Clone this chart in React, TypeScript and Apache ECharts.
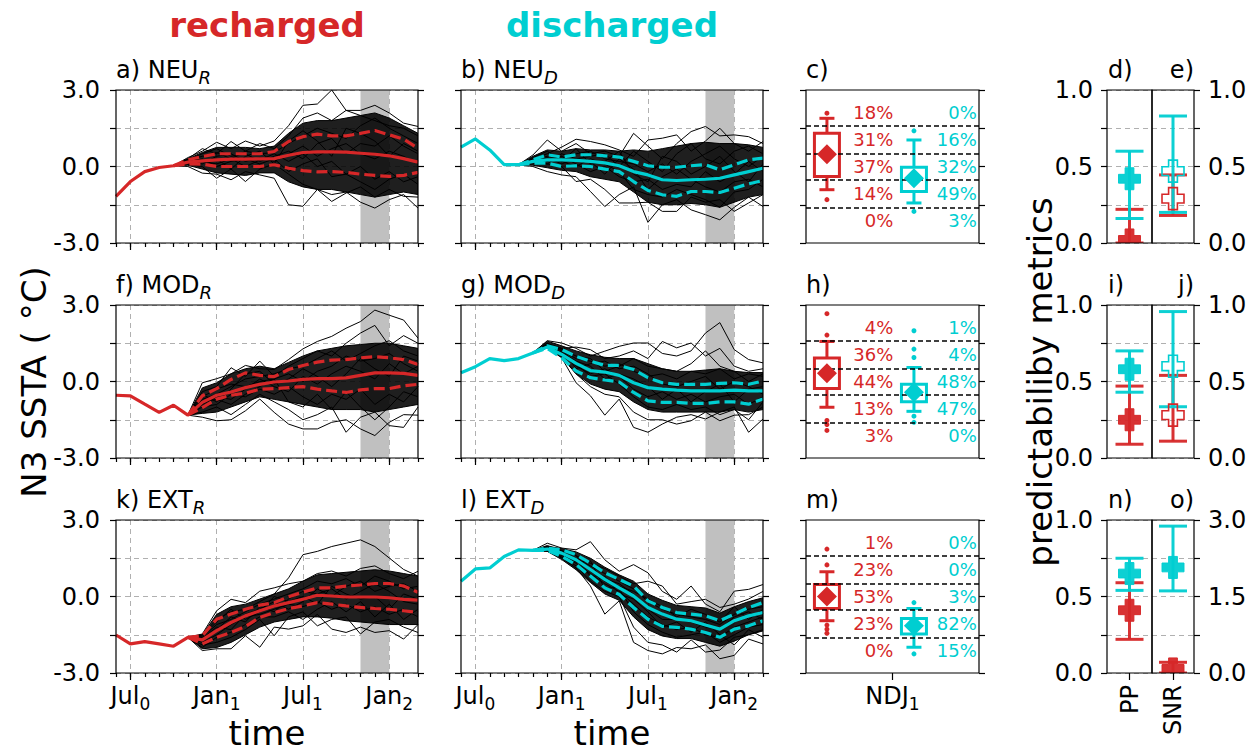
import React, { useEffect, useRef } from 'react';
import * as echarts from 'echarts';

const RED = '#d62728';
const CYAN = '#00ced1';
const FONT = 'DejaVu Sans';
const GRID_GRAY = '#b0b0b0';
const SHADE_GRAY = '#c0c0c0';

// ---------- time axis ----------
const MONTHS = ['Jun0', 'Jul0', 'Aug0', 'Sep0', 'Oct0', 'Nov0', 'Dec0', 'Jan1', 'Feb1', 'Mar1', 'Apr1', 'May1',
  'Jun1', 'Jul1', 'Aug1', 'Sep1', 'Oct1', 'Nov1', 'Dec1', 'Jan2', 'Feb2', 'Mar2'];
const MAJOR_LABELS: Record<string, string[]> = { Jul0: ['Jul', '0'], Jan1: ['Jan', '1'], Jul1: ['Jul', '1'], Jan2: ['Jan', '2'] };
const SHADE_FROM = 'Nov1';
const SHADE_TO = 'Jan2';

// ---------- panel a) NEU_R ----------
const A_START = 4;
const A_MEAN = [-1.17, -0.59, -0.2, -0.04, 0.03, 0.17, 0.22, 0.26, 0.29, 0.29, 0.3, 0.31, 0.44, 0.55, 0.57, 0.57, 0.56, 0.52, 0.48, 0.42, 0.31, 0.17];
const A_UP = [0.03, 0.26, 0.39, 0.5, 0.5, 0.5, 0.5, 0.59, 0.98, 1.17, 1.27, 1.2, 1.2, 1.3, 1.41, 1.24, 1.07, 0.72];
const A_LO = [0.03, 0.1, 0.09, 0.0, 0.0, 0.0, 0.0, 0.07, -0.07, -0.16, -0.21, -0.2, -0.23, -0.3, -0.35, -0.39, -0.35, -0.23];
const A_BAND_HI = [0.03, 0.3, 0.55, 0.75, 0.75, 0.75, 0.7, 0.8, 1.3, 1.7, 1.8, 1.8, 1.9, 2.0, 2.1, 1.9, 1.6, 1.3];
const A_BAND_LO = [0.03, 0.05, -0.1, -0.25, -0.3, -0.35, -0.25, -0.25, -0.6, -0.8, -0.9, -0.9, -1.0, -1.1, -1.2, -1.1, -1.0, -1.1];
const A_MEMBERS = [
  [0.03, 0.35, 0.6, 0.95, 0.7, 1.0, 0.8, 1.0, 1.6, 2.4, 2.45, 3.0, 2.2, 2.0, 1.8, 1.6, 1.5, 1.2],
  [0.03, 0.3, 0.7, 0.5, 0.98, 0.6, 0.9, 0.7, 1.2, 1.9, 2.1, 1.8, 2.2, 2.2, 2.4, 2.1, 1.7, 1.57],
  [0.03, 0.0, -0.26, -0.3, -0.52, -0.2, -0.33, -0.46, -1.5, -1.56, -0.9, -1.1, -1.0, -1.4, -1.63, -1.3, -1.1, -1.63],
  [0.03, 0.1, 0.0, -0.46, -0.1, -0.59, -0.1, 0.1, -0.3, -0.7, -0.9, -1.37, -1.04, -0.8, -1.2, -0.9, -1.17, -1.2],
  [0.03, 0.25, 0.4, 0.55, 0.3, 0.6, 0.5, 0.55, 0.9, 1.2, 1.5, 1.3, 1.1, 1.6, 1.9, 1.5, 1.2, 0.9],
  [0.03, 0.2, 0.1, 0.4, 0.5, 0.2, 0.35, 0.2, 0.5, 0.8, 0.4, 0.7, 0.9, 0.5, 0.3, 0.6, 0.4, 0.1],
  [0.03, 0.15, 0.3, 0.0, 0.2, 0.3, 0.1, 0.3, -0.2, 0.1, 0.3, -0.4, -0.3, -0.6, -0.9, -0.5, -0.3, -0.7],
  [0.03, 0.25, 0.5, 0.7, 0.4, 0.5, 0.2, 0.4, 0.6, 0.3, 0.9, 1.1, 0.5, 0.9, 0.8, 1.2, 0.8, 0.5],
  [0.03, 0.1, 0.2, 0.1, 0.3, 0.0, 0.25, 0.5, 0.2, 0.5, 0.0, 0.2, -0.3, 0.0, -0.5, -0.2, -0.6, -0.4],
  [0.03, 0.3, 0.25, 0.3, -0.1, 0.4, 0.6, 0.1, 1.0, 1.4, 1.0, 0.4, 1.5, 1.3, 1.0, 0.4, 0.9, 0.6],
];

// ---------- panel b) NEU_D ----------
const B_START = 4;
const B_MEAN = [0.76, 1.08, 0.65, 0.07, 0.07, 0.2, 0.26, 0.26, 0.24, 0.2, 0.14, 0.03, -0.2, -0.33, -0.52, -0.55, -0.52, -0.5, -0.46, -0.33, -0.2, -0.07];
const B_UP = [0.07, 0.26, 0.46, 0.37, 0.46, 0.46, 0.42, 0.37, 0.2, 0.03, -0.03, -0.03, 0.03, 0.07, -0.13, 0.07, 0.26, 0.33];
const B_LO = [0.07, 0.13, 0.13, 0.0, 0.03, 0.0, -0.1, -0.2, -0.59, -0.94, -1.11, -1.17, -0.98, -0.98, -1.02, -0.85, -0.68, -0.55];
const B_BAND_HI = [0.07, 0.4, 0.65, 0.6, 0.7, 0.65, 0.65, 0.6, 0.65, 0.6, 0.7, 0.8, 0.9, 0.95, 0.9, 0.9, 0.85, 0.75];
const B_BAND_LO = [0.07, 0.05, -0.05, -0.15, -0.2, -0.4, -0.5, -0.6, -1.0, -1.4, -1.5, -1.5, -1.45, -1.5, -1.6, -1.4, -1.2, -1.1];
const B_MEMBERS = [
  [0.07, 0.45, 1.04, 0.6, 0.9, 0.5, 0.6, 0.4, 1.3, 0.8, 0.3, 0.9, 1.37, 1.57, 1.2, 1.24, 1.17, 0.9],
  [0.07, 0.3, 0.5, 0.76, 1.07, 0.98, 0.85, 0.65, 0.4, 1.04, 1.11, 1.24, 0.6, 1.0, 1.5, 0.9, 0.6, 0.98],
  [0.07, 0.0, -0.2, -0.33, -0.4, -0.98, -1.57, -1.1, -0.8, -2.19, -1.5, -1.3, -1.7, -1.89, -2.09, -1.6, -1.2, -1.57],
  [0.07, 0.1, 0.1, 0.0, -0.59, -0.5, -0.9, -1.43, -1.43, -1.4, -1.76, -1.76, -1.2, -1.4, -1.3, -1.76, -1.43, -1.1],
  [0.07, 0.25, 0.4, 0.3, 0.5, 0.6, 0.3, 0.2, 0.1, -0.2, 0.1, -0.3, 0.2, 0.5, 0.8, 0.3, 0.0, 0.4],
  [0.07, 0.2, 0.2, 0.4, 0.1, -0.2, 0.0, -0.4, -0.6, -0.5, -0.9, -0.7, -0.8, -0.2, -0.6, -0.3, 0.2, -0.2],
  [0.07, 0.15, 0.35, 0.1, 0.3, 0.2, -0.3, 0.3, -0.1, -0.9, -0.4, -0.1, -0.5, -0.8, -1.0, -0.6, -0.5, -0.8],
  [0.07, 0.3, 0.1, 0.5, 0.3, 0.4, 0.5, 0.0, 0.6, 0.2, -0.2, 0.5, 0.9, 0.3, 0.1, 0.6, 0.8, 0.5],
  [0.07, 0.2, 0.3, 0.2, 0.0, 0.3, 0.1, -0.2, -0.9, -1.1, -1.2, -0.9, -1.1, -1.3, -1.6, -1.0, -0.9, -0.5],
  [0.07, 0.35, 0.6, 0.2, 0.7, 0.1, 0.2, 0.6, -0.3, -0.6, 0.4, 0.2, -0.3, 0.0, 0.4, -0.2, -0.6, 0.1],
];

// ---------- panel f) MOD_R ----------
const F_START = 5;
const F_MEAN = [-0.54, -0.56, -0.89, -1.21, -0.93, -1.32, -0.82, -0.54, -0.41, -0.24, -0.11, -0.02, 0.02, 0.08, 0.11, 0.11, 0.14, 0.24, 0.34, 0.34, 0.32, 0.24];
const F_UP = [-1.32, -0.56, -0.28, 0.08, 0.34, 0.24, 0.19, 0.47, 0.63, 0.76, 0.84, 0.86, 0.93, 0.97, 0.93, 0.86, 0.67];
const F_LO = [-1.32, -1.02, -0.69, -0.54, -0.46, -0.3, -0.28, -0.24, -0.2, -0.3, -0.37, -0.43, -0.33, -0.28, -0.28, -0.17, -0.11];
const F_BAND_HI = [-1.32, -0.25, -0.05, 0.3, 0.5, 0.6, 0.5, 0.75, 1.0, 1.2, 1.3, 1.4, 1.45, 1.5, 1.5, 1.4, 1.3];
const F_BAND_LO = [-1.32, -1.25, -1.2, -1.0, -0.8, -0.6, -0.7, -0.8, -0.9, -1.0, -1.1, -1.1, -1.1, -1.2, -1.1, -1.0, -0.9];
const F_MEMBERS = [
  [-1.32, -0.05, 0.11, 0.3, 0.63, 0.5, 0.47, 0.86, 1.28, 1.57, 1.77, 2.09, 2.35, 2.8, 2.6, 2.41, 1.7],
  [-1.32, -0.4, -0.2, 0.54, 0.2, 0.8, 0.2, 0.6, 0.9, 1.2, 1.0, 1.5, 1.9, 2.2, 1.4, 1.8, 1.5],
  [-1.32, -1.4, -1.54, -1.5, -1.15, -0.69, -1.21, -1.67, -1.86, -1.86, -1.6, -1.5, -1.86, -2.12, -1.6, -1.3, -1.32],
  [-1.32, -1.2, -1.0, -1.3, -0.9, -0.5, -0.8, -1.1, -1.5, -1.3, -1.0, -1.99, -1.4, -1.2, -1.73, -1.8, -1.0],
  [-1.32, -0.7, -0.5, -0.2, 0.1, 0.2, 0.3, 0.5, 0.6, 0.9, 1.2, 0.8, 1.1, 1.4, 1.6, 1.2, 1.0],
  [-1.32, -0.9, -0.6, -0.7, -0.3, 0.1, -0.2, -0.4, 0.2, -0.1, 0.3, 0.6, 0.4, 0.1, 0.7, 0.3, 0.6],
  [-1.32, -1.0, -0.9, -0.5, -0.6, -0.3, -0.5, -0.2, -0.6, -0.9, -0.5, -0.7, -0.3, -0.9, -0.5, -0.8, -0.2],
  [-1.32, -0.6, -0.3, -0.1, -0.2, 0.0, 0.1, 0.3, 0.0, 0.4, 0.6, 1.0, 0.8, 0.9, 1.1, 0.7, 0.4],
  [-1.32, -0.8, -0.7, -0.9, -0.5, -0.2, 0.1, -0.8, -1.0, -0.5, -1.1, -0.4, -1.0, -1.5, -1.0, -0.4, -0.6],
  [-1.32, -0.5, -0.8, -0.3, 0.3, 0.4, -0.1, 0.1, 0.5, 0.2, -0.2, 0.3, 0.9, 0.5, 0.2, 1.0, 0.8],
];

// ---------- panel g) MOD_D ----------
const G_START = 5;
const G_MEAN = [0.34, 0.58, 0.9, 0.82, 0.9, 1.12, 1.35, 1.06, 0.71, 0.43, 0.37, 0.24, -0.05, -0.24, -0.3, -0.34, -0.37, -0.37, -0.37, -0.34, -0.37, -0.37];
const G_UP = [1.12, 1.4, 1.25, 0.99, 0.8, 0.63, 0.63, 0.47, 0.15, -0.05, -0.11, -0.11, -0.11, -0.07, -0.05, -0.11, 0.02];
const G_LO = [1.12, 1.3, 0.93, 0.41, 0.15, 0.06, -0.02, -0.43, -0.76, -0.82, -0.82, -0.86, -0.86, -0.8, -0.8, -0.89, -0.69];
const G_BAND_HI = [1.12, 1.58, 1.4, 1.2, 1.05, 0.95, 0.9, 0.9, 0.7, 0.5, 0.4, 0.4, 0.45, 0.5, 0.4, 0.35, 0.35];
const G_BAND_LO = [1.12, 1.32, 0.95, 0.3, -0.1, -0.3, -0.4, -0.8, -1.1, -1.2, -1.2, -1.2, -1.2, -1.2, -1.1, -1.2, -1.1];
const G_MEMBERS = [
  [1.12, 1.6, 1.51, 1.3, 1.0, 1.19, 1.38, 1.51, 1.51, 1.1, 1.0, 1.2, 1.9, 2.31, 1.25, 0.86, 0.73],
  [1.12, 1.45, 1.3, 1.35, 1.25, 0.9, 1.0, 1.2, 0.9, 1.57, 1.32, 1.51, 1.0, 1.3, 0.6, 0.4, 0.5],
  [1.12, 1.32, 0.93, -0.05, -0.56, -1.32, -0.69, -1.8, -1.99, -1.67, -1.4, -1.3, -1.47, -1.2, -1.0, -1.99, -1.47],
  [1.12, 1.35, 1.0, 0.3, -0.2, -0.5, -0.6, -1.2, -1.5, -1.5, -1.67, -1.54, -1.2, -1.54, -1.32, -1.3, -1.0],
  [1.12, 1.5, 1.2, 0.9, 0.8, 0.6, 0.7, 0.4, 0.2, 0.3, 0.1, 0.4, 0.3, 0.5, 0.1, 0.3, 0.2],
  [1.12, 1.4, 1.1, 0.6, 0.3, 0.5, 0.2, -0.3, -0.6, -0.4, -0.7, -0.5, -0.8, -0.6, -0.5, -0.9, -0.6],
  [1.12, 1.38, 1.15, 0.8, 0.6, 0.1, 0.3, 0.1, -0.2, -0.7, -0.3, -0.8, -0.4, -0.1, -0.8, -0.3, -0.2],
  [1.12, 1.5, 1.3, 0.5, 0.7, 0.8, 0.5, 0.6, 0.3, -0.1, -0.2, 0.0, 0.2, -0.3, 0.0, -0.2, -0.5],
  [1.12, 1.35, 1.05, 0.7, 0.2, 0.3, -0.1, -0.6, -1.0, -1.1, -0.9, -1.1, -1.0, -1.3, -1.1, -1.5, -0.8],
  [1.12, 1.45, 1.25, 1.0, 0.9, 0.4, 0.6, 0.9, 0.6, 0.5, 0.4, 0.7, 1.2, 0.6, 0.4, 0.0, 0.3],
];

// ---------- panel k) EXT_R ----------
const K_START = 5;
const K_MEAN = [-1.51, -1.86, -1.77, -1.86, -1.95, -1.6, -1.7, -1.34, -1.02, -0.76, -0.56, -0.37, -0.24, -0.11, 0.05, 0.02, -0.02, -0.02, -0.02, -0.05, -0.11, -0.14];
const K_UP = [-1.6, -1.54, -0.89, -0.69, -0.5, -0.34, -0.24, -0.01, 0.17, 0.34, 0.34, 0.41, 0.45, 0.51, 0.51, 0.41, 0.17];
const K_LO = [-1.6, -1.86, -1.6, -1.41, -1.17, -0.82, -0.63, -0.47, -0.37, -0.24, -0.3, -0.37, -0.43, -0.47, -0.5, -0.56, -0.63];
const K_BAND_HI = [-1.6, -1.5, -0.7, -0.4, -0.3, -0.1, 0.1, 0.3, 0.6, 0.85, 0.9, 0.95, 1.0, 1.05, 1.0, 0.9, 0.8];
const K_BAND_LO = [-1.6, -2.05, -2.0, -1.8, -1.5, -1.2, -1.0, -0.9, -0.8, -0.8, -0.85, -0.95, -1.0, -1.05, -1.1, -1.1, -1.1];
const K_MEMBERS = [
  [-1.6, -1.5, -0.9, -0.6, -0.5, -0.2, 0.1, 0.73, 1.64, 1.77, 1.96, 2.09, 2.22, 1.96, 1.51, 1.06, 0.8],
  [-1.6, -1.47, -0.56, -0.11, -0.24, 0.21, 0.34, 0.5, 0.6, 0.9, 1.0, 0.8, 1.1, 1.2, 0.9, 0.7, 0.99],
  [-1.6, -2.12, -2.05, -2.05, -1.54, -1.99, -1.2, -1.28, -1.15, -0.7, -1.28, -1.41, -1.2, -1.41, -1.34, -1.67, -1.1],
  [-1.6, -1.9, -1.8, -1.6, -1.3, -0.9, -1.54, -0.8, -0.6, -1.15, -0.9, -0.8, -1.47, -1.0, -0.9, -1.2, -1.41],
  [-1.6, -1.6, -1.1, -0.9, -0.6, -0.3, -0.1, 0.1, 0.3, 0.6, 0.5, 0.7, 0.4, 0.8, 0.6, 0.3, 0.4],
  [-1.6, -1.8, -1.5, -1.1, -0.8, -0.7, -0.5, -0.3, -0.4, -0.2, -0.5, -0.3, -0.6, -0.4, -0.7, -0.5, -0.8],
  [-1.6, -1.7, -1.3, -0.8, -1.0, -0.4, -0.6, -0.1, 0.2, 0.1, 0.3, -0.1, 0.2, 0.5, 0.2, -0.2, -0.3],
  [-1.6, -1.65, -1.2, -1.3, -0.7, -0.5, -0.2, -0.5, -0.2, 0.3, 0.0, 0.4, 0.6, 0.2, 0.4, 0.5, 0.2],
  [-1.6, -2.0, -1.6, -1.4, -1.1, -0.8, -0.8, -0.6, -0.9, -0.5, -0.2, -0.6, -0.2, -0.8, -0.3, -0.9, -0.5],
  [-1.6, -1.55, -1.0, -0.5, -0.9, -0.6, 0.0, -0.2, 0.0, -0.3, 0.4, 0.1, -0.1, 0.0, -0.5, 0.1, -0.1],
];

// ---------- panel l) EXT_D ----------
const L_START = 5;
const L_MEAN = [0.6, 1.08, 1.12, 1.57, 1.83, 1.81, 1.86, 1.7, 1.44, 1.06, 0.67, 0.34, 0.02, -0.43, -0.69, -0.89, -0.95, -1.12, -1.28, -0.95, -0.76, -0.63];
const L_UP = [1.81, 1.9, 1.83, 1.64, 1.31, 0.93, 0.67, 0.41, -0.17, -0.43, -0.63, -0.69, -0.76, -0.95, -0.69, -0.43, -0.24];
const L_LO = [1.81, 1.81, 1.57, 1.25, 0.8, 0.34, 0.08, -0.43, -0.89, -1.17, -1.21, -1.28, -1.41, -1.6, -1.28, -1.15, -0.95];
const L_BAND_HI = [1.81, 1.97, 1.88, 1.75, 1.5, 1.15, 0.85, 0.6, 0.1, -0.15, -0.35, -0.4, -0.45, -0.65, -0.4, -0.2, -0.05];
const L_BAND_LO = [1.81, 1.77, 1.45, 1.05, 0.55, 0.1, -0.15, -0.8, -1.3, -1.55, -1.65, -1.65, -1.8, -1.95, -1.75, -1.5, -1.35];
const L_MEMBERS = [
  [1.81, 2.09, 1.9, 1.83, 2.15, 1.44, 0.99, 1.25, 0.93, 0.2, -0.11, 0.41, -0.3, -0.6, 0.21, 0.28, 0.47],
  [1.81, 1.95, 1.8, 1.6, 1.3, 1.1, 0.8, 0.5, 0.6, 0.41, -0.3, -0.2, -0.11, -0.43, -0.3, -0.1, 0.2],
  [1.81, 1.77, 1.51, 1.12, 0.41, -0.69, -0.17, -1.8, -2.12, -2.25, -2.0, -2.05, -1.9, -2.44, -2.31, -1.67, -1.86],
  [1.81, 1.8, 1.55, 1.2, 0.6, 0.2, 0.0, -1.2, -1.8, -1.9, -2.18, -1.7, -2.18, -2.1, -1.6, -1.5, -1.3],
  [1.81, 1.9, 1.75, 1.5, 1.2, 0.9, 0.6, 0.3, -0.2, -0.5, -0.7, -0.8, -0.9, -1.1, -0.7, -0.5, -0.4],
  [1.81, 1.85, 1.65, 1.3, 0.9, 0.5, 0.2, -0.3, -0.8, -1.1, -1.3, -1.2, -1.5, -1.6, -1.2, -1.0, -0.8],
  [1.81, 1.9, 1.7, 1.4, 1.1, 0.7, 0.5, 0.1, -0.5, -0.9, -0.9, -1.0, -1.2, -1.3, -0.8, -0.6, -0.9],
  [1.81, 2.0, 1.8, 1.6, 1.0, 0.6, 0.3, -0.6, -1.1, -1.4, -1.6, -1.5, -1.4, -1.8, -1.5, -1.2, -1.1],
  [1.81, 1.85, 1.6, 1.35, 1.4, 0.3, 0.4, 0.2, -0.1, -0.4, -0.8, -0.5, -0.7, -1.0, -0.4, -0.9, -0.5],
  [1.81, 1.95, 1.75, 1.45, 0.8, 0.8, 0.1, -0.1, -0.6, -1.2, -1.0, -1.4, -1.0, -1.5, -1.9, -1.3, -1.6],
];

// ---------- NDJ1 distributions (c, h, m) ----------
const THRESHOLDS = [1.58, 0.51, -0.53, -1.6];
const PCT_LEVELS = [2.13, 1.05, 0.0, -1.05, -2.13];
// box: [whiskerLow, q1, q3, whiskerHigh]
const C_RED_BOX = [-0.91, -0.39, 1.3, 1.89];
const C_RED_MEAN = 0.48;
const C_RED_FLIERS = [2.09, -1.3];
const C_CYAN_BOX = [-1.43, -0.98, -0.03, 1.04];
const C_CYAN_MEAN = -0.46;
const C_CYAN_FLIERS = [1.4, -1.76];
const C_RED_PCT = [18, 31, 37, 14, 0];
const C_CYAN_PCT = [0, 16, 32, 49, 3];

const H_RED_BOX = [-1.01, -0.27, 0.92, 1.57];
const H_RED_MEAN = 0.32;
const H_RED_FLIERS = [2.66, 1.82, -1.53, -1.69, -1.92];
const H_CYAN_BOX = [-1.17, -0.79, -0.11, 0.55];
const H_CYAN_MEAN = -0.42;
const H_CYAN_FLIERS = [1.99, 1.27, 0.94, -1.36, -1.6];
const H_RED_PCT = [4, 36, 44, 13, 3];
const H_CYAN_PCT = [1, 4, 48, 47, 0];

const M_RED_BOX = [-0.95, -0.47, 0.47, 0.97];
const M_RED_MEAN = 0.0;
const M_RED_FLIERS = [1.86, 1.24, -1.12, -1.28, -1.44];
const M_CYAN_BOX = [-1.99, -1.47, -0.86, -0.47];
const M_CYAN_MEAN = -1.15;
const M_CYAN_FLIERS = [-0.24, -2.25];
const M_RED_PCT = [1, 23, 53, 23, 0];
const M_CYAN_PCT = [0, 0, 3, 82, 15];

// ---------- predictability metrics: [low, estimate, high] ----------
const D_PP_RED = [0.0, 0.02, 0.22];
const D_PP_CYAN = [0.16, 0.42, 0.6];
const E_SNR_RED = [0.18, 0.29, 0.445];
const E_SNR_CYAN = [0.2, 0.47, 0.83];
const I_PP_RED = [0.09, 0.25, 0.47];
const I_PP_CYAN = [0.43, 0.58, 0.7];
const J_SNR_RED = [0.11, 0.28, 0.54];
const J_SNR_CYAN = [0.335, 0.6, 0.957];
const N_PP_RED = [0.22, 0.41, 0.59];
const N_PP_CYAN = [0.54, 0.65, 0.75];
const O_SNR_RED = [0.0, 0.08, 0.21];
const O_SNR_CYAN = [1.61, 2.07, 2.88];

// ---------- layout ----------
const ROWS = [90, 305, 520];
const PH = 153;
const COLS: Record<string, number[]> = { a: [116, 302], b: [461, 302], c: [806, 173], d: [1107, 45], e: [1152, 42] };

const pad = (start: number, arr: number[]) => MONTHS.map((_, i) => (i < start ? null : (arr[i - start] ?? null)));

const SUBRICH = (size: number, sub: number, italic: boolean) => ({
  m: { fontSize: size, fontFamily: FONT, color: '#000', fill: '#000', lineHeight: 32 },
  s: { fontSize: sub, fontFamily: FONT, color: '#000', fill: '#000', lineHeight: 14, verticalAlign: 'bottom', fontStyle: italic ? 'italic' : 'normal' },
});

function buildOption() {
  const grid: any[] = [];
  const xAxis: any[] = [];
  const yAxis: any[] = [];
  const series: any[] = [];
  const graphic: any[] = [];
  const tickStyle = { color: '#000', width: 1.2 };
  const dashed = { color: GRID_GRAY, type: [5, 4], width: 1 };

  const addGrid = (col: string, row: number) => {
    const [left, width] = COLS[col];
    grid.push({ left, top: ROWS[row], width, height: PH, show: false, containLabel: false });
    graphic.push({ type: 'rect', z: 100, silent: true, shape: { x: left, y: ROWS[row], width, height: PH }, style: { fill: 'none', stroke: '#000', lineWidth: 1.2 } });
    return grid.length - 1;
  };
  const addX = (o: any) => xAxis.push(o) - 1;
  const addY = (o: any) => yAxis.push(o) - 1;

  const text = (x: number, y: number, t: string, style: any = {}, extra: any = {}) => {
    graphic.push({
      type: 'text', x, y, z: 100, silent: true, ...extra,
      style: { text: t, fill: '#000', fontSize: 24, fontFamily: FONT, align: 'center', verticalAlign: 'middle', textAlign: 'center', textVerticalAlign: 'middle', ...style },
    });
  };

  const sstaAxisY = (g: number, labels: boolean) => {
    const yl = addY({
      type: 'value', gridIndex: g, position: 'left', min: -3, max: 3, interval: 1.5,
      axisLine: { show: false, onZero: false }, axisTick: { show: true, length: 6, lineStyle: tickStyle },
      axisLabel: { show: labels, margin: 16, fontSize: 24, fontFamily: FONT, color: '#000', formatter: (v: number) => (Math.abs(v % 3) < 1e-9 ? v.toFixed(1) : '') },
      splitLine: { show: false },
    });
    const yr = addY({
      type: 'value', gridIndex: g, position: 'right', min: -3, max: 3, interval: 1.5,
      axisLine: { show: false, onZero: false }, axisTick: { show: true, length: 6, lineStyle: tickStyle },
      axisLabel: { show: false }, splitLine: { show: false },
    });
    return [yl, yr];
  };

  // ----- time series panels -----
  const timePanel = (row: number, col: string, color: string, start: number, mean: number[], up: number[], lo: number[],
    bandHi: number[], bandLo: number[], members: number[][], title: string, sub: string) => {
    const g = addGrid(col, row);
    const bottom = row === 2;
    const isMajor = (_i: number, v: string) => !!MAJOR_LABELS[v];
    addX({
      type: 'category', gridIndex: g, position: 'bottom', data: MONTHS, boundaryGap: false,
      axisLine: { show: false, onZero: false }, axisTick: { show: true, interval: 0, length: 4, lineStyle: tickStyle },
      axisLabel: { show: false }, splitLine: { show: false },
    });
    const xm = addX({
      type: 'category', gridIndex: g, position: 'bottom', data: MONTHS, boundaryGap: false,
      axisLine: { show: false, onZero: false }, axisTick: { show: true, interval: isMajor, length: 7, lineStyle: tickStyle },
      axisLabel: {
        show: bottom, interval: isMajor, margin: 7,
        formatter: (v: string) => (MAJOR_LABELS[v] ? `{m|${MAJOR_LABELS[v][0]}}{s|${MAJOR_LABELS[v][1]}}` : ''),
        rich: SUBRICH(24, 17, false),
      },
      splitLine: { show: true, interval: isMajor, lineStyle: dashed },
    });
    const [yl] = sstaAxisY(g, col === 'a');
    yAxis[yl].splitLine = { show: true, lineStyle: dashed };
    // gray NDJ shading
    series.push({
      type: 'line', xAxisIndex: xm, yAxisIndex: yl, data: MONTHS.map(() => null), silent: true, z: 1, symbol: 'none',
      markArea: { silent: true, itemStyle: { color: SHADE_GRAY, opacity: 1 }, data: [[{ xAxis: SHADE_FROM }, { xAxis: SHADE_TO }]] },
    });
    // dense ensemble core
    series.push({
      type: 'custom', xAxisIndex: xm, yAxisIndex: yl, silent: true, z: 2, clip: true,
      data: [[start, bandHi[0]]],
      renderItem: (_p: any, api: any) => {
        const pts: number[][] = [];
        bandHi.forEach((v, i) => pts.push(api.coord([start + i, v])));
        for (let i = bandLo.length - 1; i >= 0; i--) pts.push(api.coord([start + i, bandLo[i]]));
        return { type: 'polygon', shape: { points: pts }, style: { fill: 'rgba(0,0,0,0.88)', stroke: '#000', lineWidth: 1 } };
      },
    });
    members.forEach((m) => {
      series.push({ type: 'line', xAxisIndex: xm, yAxisIndex: yl, data: pad(start, m), symbol: 'none', silent: true, z: 3, lineStyle: { color: '#000', width: 1 } });
    });
    series.push({ type: 'line', xAxisIndex: xm, yAxisIndex: yl, data: pad(start, up), symbol: 'none', silent: true, z: 4, lineStyle: { color, width: 3.2, type: [11, 5] } });
    series.push({ type: 'line', xAxisIndex: xm, yAxisIndex: yl, data: pad(start, lo), symbol: 'none', silent: true, z: 4, lineStyle: { color, width: 3.2, type: [11, 5] } });
    series.push({ type: 'line', xAxisIndex: xm, yAxisIndex: yl, data: mean, symbol: 'none', silent: true, z: 5, lineStyle: { color, width: 3.2 } });
    graphic.push({
      type: 'text', x: COLS[col][0], y: ROWS[row] - 20, z: 100, silent: true,
      style: { text: `{m|${title}}{s|${sub}}`, rich: SUBRICH(24, 18, true), align: 'left', verticalAlign: 'middle', textAlign: 'left', textVerticalAlign: 'middle' },
    });
  };

  // ----- box plot panels -----
  const BOX_X = { red: 0.121, cyan: 0.624 };
  const PCT_X = { red: 0.505, cyan: 0.987 };
  const boxRender = (color: string) => (_p: any, api: any) => {
    const x = api.value(0);
    const pLo = api.coord([x, api.value(1)]);
    const pQ1 = api.coord([x, api.value(2)]);
    const pQ3 = api.coord([x, api.value(3)]);
    const pHi = api.coord([x, api.value(4)]);
    const bw = 25, cw = 15;
    const ls = { stroke: color, lineWidth: 3, fill: 'none' };
    return {
      type: 'group', children: [
        { type: 'line', shape: { x1: pHi[0], y1: pHi[1], x2: pQ3[0], y2: pQ3[1] }, style: ls },
        { type: 'line', shape: { x1: pLo[0], y1: pLo[1], x2: pQ1[0], y2: pQ1[1] }, style: ls },
        { type: 'line', shape: { x1: pHi[0] - cw / 2, y1: pHi[1], x2: pHi[0] + cw / 2, y2: pHi[1] }, style: ls },
        { type: 'line', shape: { x1: pLo[0] - cw / 2, y1: pLo[1], x2: pLo[0] + cw / 2, y2: pLo[1] }, style: ls },
        { type: 'rect', shape: { x: pQ3[0] - bw / 2, y: pQ3[1], width: bw, height: pQ1[1] - pQ3[1] }, style: { stroke: color, lineWidth: 3, fill: '#fff' } },
      ],
    };
  };
  const pctRender = (color: string) => (_p: any, api: any) => {
    const p = api.coord([api.value(0), api.value(1)]);
    return {
      type: 'text', x: p[0], y: p[1],
      style: { text: `${api.value(2)}%`, fill: color, fontSize: 18, fontFamily: FONT, align: 'right', verticalAlign: 'middle', textAlign: 'right', textVerticalAlign: 'middle' },
    };
  };

  const boxPanel = (row: number, redBox: number[], redMean: number, redFliers: number[], redPct: number[],
    cyanBox: number[], cyanMean: number, cyanFliers: number[], cyanPct: number[], title: string) => {
    const g = addGrid('c', row);
    const xv = addX({ type: 'value', gridIndex: g, position: 'bottom', min: 0, max: 1, show: false, axisLine: { onZero: false } });
    if (row === 2) {
      addX({
        type: 'category', gridIndex: g, position: 'bottom', data: ['NDJ'], boundaryGap: true,
        axisLine: { show: false, onZero: false }, axisTick: { show: true, alignWithLabel: true, length: 7, lineStyle: tickStyle },
        axisLabel: { show: true, margin: 7, formatter: () => '{m|NDJ}{s|1}', rich: SUBRICH(24, 17, false) },
        splitLine: { show: false },
      });
    }
    const [yl] = sstaAxisY(g, false);
    const sets = [
      { color: RED, key: 'red' as const, box: redBox, mean: redMean, fliers: redFliers, pct: redPct },
      { color: CYAN, key: 'cyan' as const, box: cyanBox, mean: cyanMean, fliers: cyanFliers, pct: cyanPct },
    ];
    sets.forEach((s, si) => {
      series.push({
        type: 'custom', xAxisIndex: xv, yAxisIndex: yl, silent: true, z: 3,
        encode: { x: 0, y: [1, 2, 3, 4] },
        data: [[BOX_X[s.key], ...s.box]], renderItem: boxRender(s.color),
      });
      series.push({
        type: 'scatter', xAxisIndex: xv, yAxisIndex: yl, silent: true, z: 4, symbol: 'circle', symbolSize: 5,
        itemStyle: { color: s.color, opacity: 1 }, data: s.fliers.map((v) => [BOX_X[s.key], v]),
      });
      series.push({
        type: 'scatter', xAxisIndex: xv, yAxisIndex: yl, silent: true, z: 5, symbol: 'diamond', symbolSize: 20,
        itemStyle: { color: s.color, opacity: 1 }, data: [[BOX_X[s.key], s.mean]],
        markLine: si === 0 ? {
          silent: true, symbol: ['none', 'none'], label: { show: false }, animation: false,
          lineStyle: { color: '#000', type: [5, 3], width: 1.5 },
          data: THRESHOLDS.map((v) => ({ yAxis: v })),
        } : undefined,
      });
      series.push({
        type: 'custom', xAxisIndex: xv, yAxisIndex: yl, silent: true, z: 6,
        data: s.pct.map((p, i) => [PCT_X[s.key], PCT_LEVELS[i], p]), renderItem: pctRender(s.color),
      });
    });
    text(COLS.c[0], ROWS[row] - 20, title, { align: 'left', textAlign: 'left' });
  };

  // ----- metric panels -----
  const errRender = (color: string) => (_p: any, api: any) => {
    const x = api.value(0);
    const pLo = api.coord([x, api.value(1)]);
    const pHi = api.coord([x, api.value(3)]);
    const cw = 28;
    const ls = { stroke: color, lineWidth: 3, fill: 'none', opacity: 0.95 };
    return {
      type: 'group', children: [
        { type: 'line', shape: { x1: pLo[0], y1: pLo[1], x2: pHi[0], y2: pHi[1] }, style: ls },
        { type: 'line', shape: { x1: pLo[0] - cw / 2, y1: pLo[1], x2: pLo[0] + cw / 2, y2: pLo[1] }, style: ls },
        { type: 'line', shape: { x1: pHi[0] - cw / 2, y1: pHi[1], x2: pHi[0] + cw / 2, y2: pHi[1] }, style: ls },
      ],
    };
  };
  const plusRender = (color: string, hollow: boolean) => (_p: any, api: any) => {
    const c = api.coord([api.value(0), api.value(1)]);
    const s = 11, t = 4.4;
    const rel = [[-t, -s], [t, -s], [t, -t], [s, -t], [s, t], [t, t], [t, s], [-t, s], [-t, t], [-s, t], [-s, -t], [-t, -t]];
    return {
      type: 'polygon', shape: { points: rel.map(([dx, dy]) => [c[0] + dx, c[1] + dy]) },
      style: hollow ? { fill: 'none', stroke: color, lineWidth: 1.6 } : { fill: color, stroke: color, lineWidth: 1, opacity: 0.95 },
    };
  };

  const metricPanel = (row: number, col: string, yMax: number, labelStep: number, red: number[], cyan: number[],
    hollow: boolean, xLabel: string, title: string) => {
    const g = addGrid(col, row);
    const xv = addX({ type: 'value', gridIndex: g, position: 'bottom', min: 0, max: 1, show: false, axisLine: { onZero: false } });
    if (row === 2) {
      addX({
        type: 'category', gridIndex: g, position: 'bottom', data: [xLabel], boundaryGap: true,
        axisLine: { show: false, onZero: false }, axisTick: { show: true, alignWithLabel: true, length: 7, lineStyle: tickStyle },
        axisLabel: { show: true, rotate: 90, margin: 12, fontSize: 24, fontFamily: FONT, color: '#000' },
        splitLine: { show: false },
      });
    }
    const left = col === 'd';
    const yi = addY({
      type: 'value', gridIndex: g, position: left ? 'left' : 'right', min: 0, max: yMax, interval: yMax / 4,
      axisLine: { show: false, onZero: false }, axisTick: { show: true, length: 6, lineStyle: tickStyle },
      axisLabel: {
        show: true, margin: 14, fontSize: 24, fontFamily: FONT, color: '#000',
        formatter: (v: number) => (Math.abs(v / labelStep - Math.round(v / labelStep)) < 1e-9 ? v.toFixed(1) : ''),
      },
      splitLine: { show: true, lineStyle: dashed },
    });
    [[RED, red], [CYAN, cyan]].forEach(([color, vals]: any) => {
      series.push({
        type: 'custom', xAxisIndex: xv, yAxisIndex: yi, silent: true, z: 3, clip: true, encode: { x: 0, y: [1, 2, 3] },
        data: [[0.5, ...vals]], renderItem: errRender(color),
      });
      series.push({
        type: 'custom', xAxisIndex: xv, yAxisIndex: yi, silent: true, z: 4, clip: true,
        data: [[0.5, vals[1]]], renderItem: plusRender(color, hollow),
      });
    });
    if (left) text(COLS.d[0] + 1, ROWS[row] - 20, title, { align: 'left', textAlign: 'left' });
    else text(COLS.e[0] + COLS.e[1], ROWS[row] - 20, title, { align: 'right', textAlign: 'right' });
  };

  // rows
  timePanel(0, 'a', RED, A_START, A_MEAN, A_UP, A_LO, A_BAND_HI, A_BAND_LO, A_MEMBERS, 'a) NEU', 'R');
  timePanel(0, 'b', CYAN, B_START, B_MEAN, B_UP, B_LO, B_BAND_HI, B_BAND_LO, B_MEMBERS, 'b) NEU', 'D');
  boxPanel(0, C_RED_BOX, C_RED_MEAN, C_RED_FLIERS, C_RED_PCT, C_CYAN_BOX, C_CYAN_MEAN, C_CYAN_FLIERS, C_CYAN_PCT, 'c)');
  metricPanel(0, 'd', 1, 0.5, D_PP_RED, D_PP_CYAN, false, 'PP', 'd)');
  metricPanel(0, 'e', 1, 0.5, E_SNR_RED, E_SNR_CYAN, true, 'SNR', 'e)');

  timePanel(1, 'a', RED, F_START, F_MEAN, F_UP, F_LO, F_BAND_HI, F_BAND_LO, F_MEMBERS, 'f) MOD', 'R');
  timePanel(1, 'b', CYAN, G_START, G_MEAN, G_UP, G_LO, G_BAND_HI, G_BAND_LO, G_MEMBERS, 'g) MOD', 'D');
  boxPanel(1, H_RED_BOX, H_RED_MEAN, H_RED_FLIERS, H_RED_PCT, H_CYAN_BOX, H_CYAN_MEAN, H_CYAN_FLIERS, H_CYAN_PCT, 'h)');
  metricPanel(1, 'd', 1, 0.5, I_PP_RED, I_PP_CYAN, false, 'PP', 'i)');
  metricPanel(1, 'e', 1, 0.5, J_SNR_RED, J_SNR_CYAN, true, 'SNR', 'j)');

  timePanel(2, 'a', RED, K_START, K_MEAN, K_UP, K_LO, K_BAND_HI, K_BAND_LO, K_MEMBERS, 'k) EXT', 'R');
  timePanel(2, 'b', CYAN, L_START, L_MEAN, L_UP, L_LO, L_BAND_HI, L_BAND_LO, L_MEMBERS, 'l) EXT', 'D');
  boxPanel(2, M_RED_BOX, M_RED_MEAN, M_RED_FLIERS, M_RED_PCT, M_CYAN_BOX, M_CYAN_MEAN, M_CYAN_FLIERS, M_CYAN_PCT, 'm)');
  metricPanel(2, 'd', 1, 0.5, N_PP_RED, N_PP_CYAN, false, 'PP', 'n)');
  metricPanel(2, 'e', 3, 1.5, O_SNR_RED, O_SNR_CYAN, false, 'SNR', 'o)');

  // big labels
  text(267, 25, 'recharged', { fontSize: 34, fontWeight: 'bold', fill: RED });
  text(612, 25, 'discharged', { fontSize: 34, fontWeight: 'bold', fill: CYAN });
  text(267, 733, 'time', { fontSize: 34 });
  text(612, 733, 'time', { fontSize: 34 });
  text(34, 382, 'N3 SSTA ( °C)', { fontSize: 34 }, { rotation: Math.PI / 2 });
  text(1040, 382, 'predictabiliby metrics', { fontSize: 34 }, { rotation: Math.PI / 2 });

  return { animation: false, backgroundColor: '#fff', grid, xAxis, yAxis, series, graphic };
}

export default function App() {
  const ref = useRef<HTMLDivElement>(null);
  useEffect(() => {
    if (!ref.current) return;
    const chart = echarts.init(ref.current, null, { renderer: 'svg' });
    chart.setOption(buildOption() as any);
    return () => chart.dispose();
  }, []);
  return <div ref={ref} style={{ position: 'fixed', left: 0, top: 0, width: 1258, height: 752, background: '#fff' }} />;
}
